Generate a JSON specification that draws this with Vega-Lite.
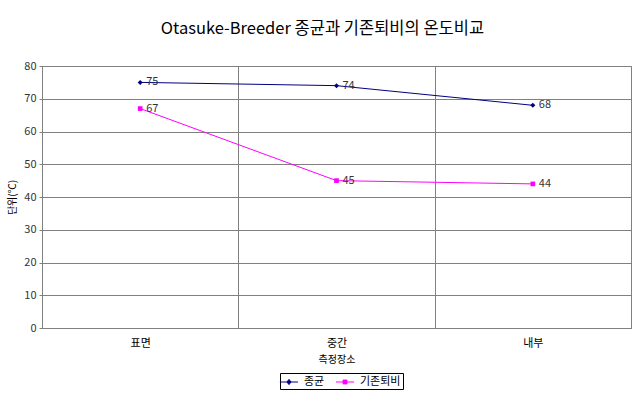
{
  "$schema": "https://vega.github.io/schema/vega-lite/v6.json",
  "width": 589,
  "height": 262,
  "autosize": {"type": "none"},
  "padding": {"left": 42, "top": 66, "right": 9, "bottom": 66},
  "background": "white",
  "title": {
    "text": "Otasuke-Breeder 종균과 기존퇴비의 온도비교",
    "fontSize": 16.5,
    "font": "Noto Sans CJK KR",
    "fontWeight": "normal",
    "color": "#000",
    "anchor": "middle",
    "offset": 23,
    "dx": -14
  },
  "config": {
    "view": {"stroke": "#808080"},
    "font": "Noto Sans CJK KR"
  },
  "data": {
    "values": [
      {"place": "표면", "series": "종균", "value": 75},
      {"place": "중간", "series": "종균", "value": 74},
      {"place": "내부", "series": "종균", "value": 68},
      {"place": "표면", "series": "기존퇴비", "value": 67},
      {"place": "중간", "series": "기존퇴비", "value": 45},
      {"place": "내부", "series": "기존퇴비", "value": 44}
    ]
  },
  "encoding": {
    "x": {
      "field": "place",
      "type": "nominal",
      "sort": ["표면", "중간", "내부"],
      "scale": {"paddingInner": 0, "paddingOuter": 0},
      "axis": {
        "title": "측정장소",
        "titleFontSize": 10,
        "titleFontWeight": "normal",
        "titleColor": "#000",
        "titlePadding": 6,
        "labelAngle": 0,
        "labelFontSize": 11,
        "labelColor": "#000",
        "labelPadding": 9,
        "ticks": false,
        "tickBand": "extent",
        "grid": true,
        "gridColor": "#808080",
        "gridOpacity": 1,
        "domainColor": "#808080"
      }
    },
    "y": {
      "field": "value",
      "type": "quantitative",
      "scale": {"domain": [0, 80], "nice": false},
      "axis": {
        "values": [0, 10, 20, 30, 40, 50, 60, 70, 80],
        "title": "단위(℃)",
        "titleFontSize": 10,
        "titleFontWeight": "normal",
        "titleColor": "#000",
        "titlePadding": 6,
        "labelFontSize": 11,
        "labelColor": "#333",
        "labelPadding": 3,
        "tickSize": 3,
        "tickColor": "#808080",
        "grid": true,
        "gridColor": "#808080",
        "gridOpacity": 1,
        "domainColor": "#808080"
      }
    }
  },
  "layer": [
    {
      "mark": {"type": "line", "strokeWidth": 1},
      "encoding": {
        "color": {
          "field": "series",
          "type": "nominal",
          "scale": {"domain": ["종균", "기존퇴비"], "range": ["#000080", "#ff00ff"]},
          "legend": {
            "title": null,
            "orient": "none",
            "direction": "horizontal",
            "legendX": 238,
            "legendY": 307,
            "strokeColor": "#000",
            "padding": 2,
            "labelFontSize": 11,
            "labelColor": "#000",
            "symbolSize": 169,
            "symbolStrokeWidth": 1,
            "columnPadding": 8,
            "labelOffset": 8,
            "encode": {
              "symbols": {
                "update": {
                  "shape": {"signal": "datum.value === '종균' ? 'M-1.4,0H1.4M0,-0.4L0.32,0L0,0.4L-0.32,0Z' : 'M-1.4,0H1.4M-0.3,-0.3H0.3V0.3H-0.3Z'"},
                  "fill": {"signal": "datum.value === '종균' ? '#000080' : '#ff00ff'"}
                }
              }
            }
          }
        }
      }
    },
    {
      "transform": [{"filter": "datum.series === '종균'"}],
      "mark": {"type": "point", "filled": true, "opacity": 1, "shape": "diamond", "size": 25, "color": "#000080"}
    },
    {
      "transform": [{"filter": "datum.series === '기존퇴비'"}],
      "mark": {"type": "point", "filled": true, "opacity": 1, "shape": "square", "size": 22, "color": "#ff00ff"}
    },
    {
      "mark": {"type": "text", "align": "left", "baseline": "middle", "dx": 6, "fontSize": 11, "color": "#333"},
      "encoding": {
        "text": {"field": "value", "type": "quantitative"}
      }
    }
  ]
}
